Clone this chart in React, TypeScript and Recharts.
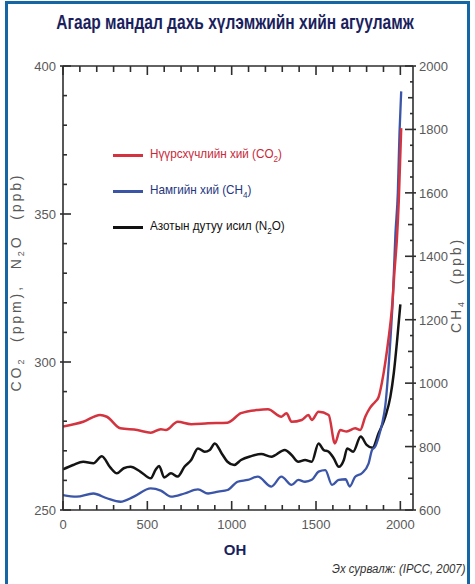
import React from 'react';
import { LineChart, Line, XAxis, YAxis, ReferenceLine } from 'recharts';

// ---- data (years AD) ----
const co2Years = [0, 120, 220, 260, 340, 440, 520, 580, 610, 680, 760, 860, 975, 1055, 1155, 1215, 1295, 1325, 1355, 1415, 1455, 1475, 1515, 1575, 1612, 1643, 1682, 1732, 1762, 1792, 1820, 1850, 1870, 1900, 1928, 1950, 1967, 1980, 1991, 2005];
const co2Values = [278.2, 279.8, 282.1, 281.5, 277.6, 277.0, 276.1, 277.3, 277.0, 279.8, 279.0, 279.3, 279.5, 282.7, 283.8, 284.0, 281.5, 282.7, 279.8, 280.4, 282.1, 280.4, 283.2, 282.1, 272.5, 277.0, 276.5, 277.6, 277.0, 281.5, 284.5, 286.5, 288, 296, 307, 318, 332, 342, 355, 379];

const ch4Years = [0, 80, 180, 260, 340, 420, 520, 580, 640, 720, 800, 860, 920, 975, 1035, 1095, 1155, 1235, 1295, 1355, 1395, 1435, 1475, 1515, 1555, 1595, 1635, 1675, 1700, 1732, 1772, 1812, 1832, 1851, 1871, 1891, 1911, 1941, 1955, 1971, 1985, 1995, 2005];
const ch4Values = [647, 642, 652, 637, 626, 642, 668, 661, 642, 652, 665, 652, 658, 663, 689, 695, 705, 674, 705, 679, 695, 689, 695, 721, 726, 679, 695, 697, 674, 705, 716, 747, 789, 800, 830, 870, 930, 1136, 1262, 1473, 1600, 1790, 1920];

const n2oYears = [0, 60, 120, 180, 230, 280, 320, 360, 400, 460, 520, 550, 570, 600, 640, 680, 720, 760, 800, 840, 870, 900, 940, 975, 1015, 1055, 1115, 1175, 1235, 1315, 1355, 1395, 1435, 1475, 1515, 1545, 1575, 1605, 1635, 1665, 1685, 1720, 1765, 1800, 1835, 1871, 1911, 1941, 1961, 1981, 2000];
const n2oValues = [263.7, 265.2, 266.3, 265.8, 268.2, 264.4, 262.4, 264.1, 264.6, 262.9, 260.7, 263.7, 264.9, 261.0, 262.4, 261.3, 264.6, 266.9, 270.8, 269.7, 270.3, 272.5, 269.2, 266.3, 265.2, 266.9, 268.2, 268.9, 268.0, 270.3, 268.6, 266.3, 266.9, 266.3, 272.5, 270.3, 269.7, 267.5, 264.6, 266.9, 270.8, 269.7, 274.8, 272.0, 271.0, 275.9, 281.5, 288.3, 296.2, 307.4, 319.5];

// ---- axes ----
const xTicks = [0, 100, 200, 300, 400, 500, 600, 700, 800, 900, 1000, 1100, 1200, 1300, 1400, 1500, 1600, 1700, 1800, 1900, 2000];
const xLabels = [0, 500, 1000, 1500, 2000];
const leftTicks = [250, 260, 270, 280, 290, 300, 310, 320, 330, 340, 350, 360, 370, 380, 390, 400];
const leftLabels = [250, 300, 350, 400];
const rightTicks = [600, 650, 700, 750, 800, 850, 900, 950, 1000, 1050, 1100, 1150, 1200, 1250, 1300, 1350, 1400, 1450, 1500, 1550, 1600, 1650, 1700, 1750, 1800, 1850, 1900, 1950, 2000];
const rightLabels = [600, 800, 1000, 1200, 1400, 1600, 1800, 2000];

const xDomain = [0, 2075];
const leftDomain = [250, 400];
const rightDomain = [600, 2000];

const titleText = 'Агаар мандал дахь хүлэмжийн хийн агууламж';
const xAxisTitle = 'ОН';
const sourceText = 'Эх сурвалж: (IPCC, 2007)';

const legendItems = [
  { name: 'Нүүрсхүчлийн хий (CO', sub: '2', tail: ')', color: '#d4323f', text: '#c8283a' },
  { name: 'Намгийн хий (CH', sub: '4', tail: ')', color: '#3a55a6', text: '#24367e' },
  { name: 'Азотын дутуу исил (N', sub: '2', tail: 'O)', color: '#111111', text: '#111111' },
];

const toSeries = (years: number[], values: number[]) => years.map((y, i) => ({ year: y, value: values[i] }));
const co2Data = toSeries(co2Years, co2Values);
const ch4Data = toSeries(ch4Years, ch4Values);
const n2oData = toSeries(n2oYears, n2oValues);

const AX = '#2e2e2e';
const LBL = '#595959';
const SANS = '"Liberation Sans", Arial, sans-serif';

// plot size in px, used to convert tick lengths (px) into data units
const PLOT_W = 350;
const PLOT_H = 444;
const ux = (px: number) => (px * (xDomain[1] - xDomain[0])) / PLOT_W;
const ul = (px: number) => (px * (leftDomain[1] - leftDomain[0])) / PLOT_H;

const renderBottomTick = (props: any) => {
  const { x, y, payload } = props;
  const v = payload.value;
  if (!xLabels.includes(v)) return <g />;
  return <text x={x} y={y + 19} textAnchor="middle" fontSize={13} fill={LBL} fontFamily={SANS}>{v}</text>;
};

const renderLeftTick = (props: any) => {
  const { x, y, payload } = props;
  const v = payload.value;
  if (!leftLabels.includes(v)) return <g />;
  return <text x={x - 7} y={y + 5} textAnchor="end" fontSize={13} fill={LBL} fontFamily={SANS}>{v}</text>;
};

const renderRightTick = (props: any) => {
  const { x, y, payload } = props;
  const v = payload.value;
  if (!rightLabels.includes(v)) return <g />;
  return <text x={x + 6} y={y + 5} textAnchor="start" fontSize={13} fill={LBL} fontFamily={SANS}>{v}</text>;
};

const tickMarks = () => {
  const out: any[] = [];
  const common = { stroke: AX, strokeWidth: 1.6, ifOverflow: 'visible' as const };
  xTicks.forEach((v) => {
    const major = xLabels.includes(v);
    out.push(
      <ReferenceLine key={`bt${v}`} xAxisId="b" yAxisId="l" {...common}
        segment={[{ x: v, y: leftDomain[0] }, { x: v, y: leftDomain[0] + ul(major ? 9 : 5) }]} />
    );
    out.push(
      <ReferenceLine key={`tt${v}`} xAxisId="b" yAxisId="l" {...common}
        segment={[{ x: v, y: leftDomain[1] }, { x: v, y: leftDomain[1] - ul(major ? 9 : 6) }]} />
    );
  });
  leftTicks.forEach((v) => {
    const major = leftLabels.includes(v);
    out.push(
      <ReferenceLine key={`lt${v}`} xAxisId="b" yAxisId="l" {...common}
        segment={[{ x: xDomain[0] - ux(major ? 3 : 0), y: v }, { x: xDomain[0] + ux(major ? 8 : 4), y: v }]} />
    );
  });
  rightTicks.forEach((v) => {
    const major = rightLabels.includes(v);
    const mid = v % 100 === 0;
    out.push(
      <ReferenceLine key={`rt${v}`} xAxisId="b" yAxisId="r" {...common}
        segment={[{ x: xDomain[1] + ux(major ? 3 : 0), y: v }, { x: xDomain[1] - ux(major ? 8 : mid ? 5 : 3), y: v }]} />
    );
  });
  return out;
};

export default function App() {
  return (
    <div style={{ position: 'absolute', left: 0, top: 0, width: 475, height: 584, overflow: 'hidden', background: '#ffffff' }}>
      <div style={{ position: 'absolute', left: 5, top: 1, width: 465, height: 700, boxSizing: 'border-box', border: '3px solid #1466a5' }} />
      <div style={{ position: 'absolute', left: 235, top: 22, transform: 'translate(-50%, -50%) scaleX(0.74)', whiteSpace: 'nowrap', fontFamily: SANS, fontWeight: 'bold', fontSize: 21, color: '#1b1f5e' }}>
        {titleText}
      </div>
      <div style={{ position: 'absolute', left: 0, top: 0 }}>
        <LineChart width={475} height={584} margin={{ top: 65, right: 0, bottom: 0, left: 0 }}>
          <XAxis xAxisId="b" dataKey="year" type="number" domain={xDomain} ticks={xTicks} interval={0}
            orientation="bottom" height={74} tickSize={0} tickMargin={0} tickLine={false} tick={renderBottomTick}
            axisLine={{ stroke: AX, strokeWidth: 1.6 }} allowDataOverflow />
          <XAxis xAxisId="t" dataKey="year" type="number" domain={xDomain} ticks={xTicks} interval={0}
            orientation="top" height={1} tickSize={0} tickMargin={0} tickLine={false} tick={false}
            axisLine={{ stroke: AX, strokeWidth: 1.6 }} allowDataOverflow />
          <YAxis yAxisId="l" type="number" domain={leftDomain} ticks={leftTicks} interval={0}
            orientation="left" width={63} tickSize={0} tickMargin={0} tickLine={false} tick={renderLeftTick}
            axisLine={{ stroke: AX, strokeWidth: 1.6 }} allowDataOverflow />
          <YAxis yAxisId="r" type="number" domain={rightDomain} ticks={rightTicks} interval={0}
            orientation="right" width={62} tickSize={0} tickMargin={0} tickLine={false} tick={renderRightTick}
            axisLine={{ stroke: AX, strokeWidth: 1.6 }} allowDataOverflow />
          {tickMarks()}
          <Line xAxisId="b" yAxisId="l" data={n2oData} dataKey="value" type="monotone" stroke="#141414" strokeWidth={2.5} dot={false} isAnimationActive={false} />
          <Line xAxisId="b" yAxisId="r" data={ch4Data} dataKey="value" type="monotone" stroke="#3b55a8" strokeWidth={2.3} dot={false} isAnimationActive={false} />
          <Line xAxisId="b" yAxisId="l" data={co2Data} dataKey="value" type="monotone" stroke="#d3343f" strokeWidth={2.5} dot={false} isAnimationActive={false} />
        </LineChart>
      </div>
      <div style={{ position: 'absolute', left: 113, top: 137, fontFamily: SANS, fontSize: 13 }}>
        {legendItems.map((it, i) => (
          <div key={i} style={{ display: 'flex', alignItems: 'center', height: 36 }}>
            <span style={{ display: 'inline-block', width: 30, height: 3, background: it.color, marginRight: 7 }} />
            <span style={{ color: it.text, whiteSpace: 'nowrap', display: 'inline-block', transform: 'scaleX(0.9)', transformOrigin: 'left center' }}>
              {it.name}
              <sub style={{ fontSize: 9 }}>{it.sub}</sub>
              {it.tail}
            </span>
          </div>
        ))}
      </div>
      <div style={{ position: 'absolute', left: 17, top: 282, transform: 'translate(-50%, -50%) rotate(-90deg)', whiteSpace: 'nowrap', fontFamily: SANS, fontSize: 14, color: LBL, letterSpacing: 2.9, wordSpacing: 8 }}>
        CO<sub style={{ fontSize: 9 }}>2</sub> (ppm), N<sub style={{ fontSize: 9 }}>2</sub>O (ppb)
      </div>
      <div style={{ position: 'absolute', left: 457, top: 285, transform: 'translate(-50%, -50%) rotate(-90deg)', whiteSpace: 'nowrap', fontFamily: SANS, fontSize: 14, color: LBL, letterSpacing: 2.9, wordSpacing: 8 }}>
        CH<sub style={{ fontSize: 9 }}>4</sub> (ppb)
      </div>
      <div style={{ position: 'absolute', left: 235, top: 549, transform: 'translate(-50%, -50%)', fontFamily: SANS, fontWeight: 'bold', fontSize: 15, color: '#1b1f5e' }}>
        {xAxisTitle}
      </div>
      <div style={{ position: 'absolute', right: 10, top: 562, fontFamily: SANS, fontStyle: 'italic', fontSize: 12, color: '#333', transform: 'scaleX(0.95)', transformOrigin: 'right center' }}>
        {sourceText}
      </div>
    </div>
  );
}
